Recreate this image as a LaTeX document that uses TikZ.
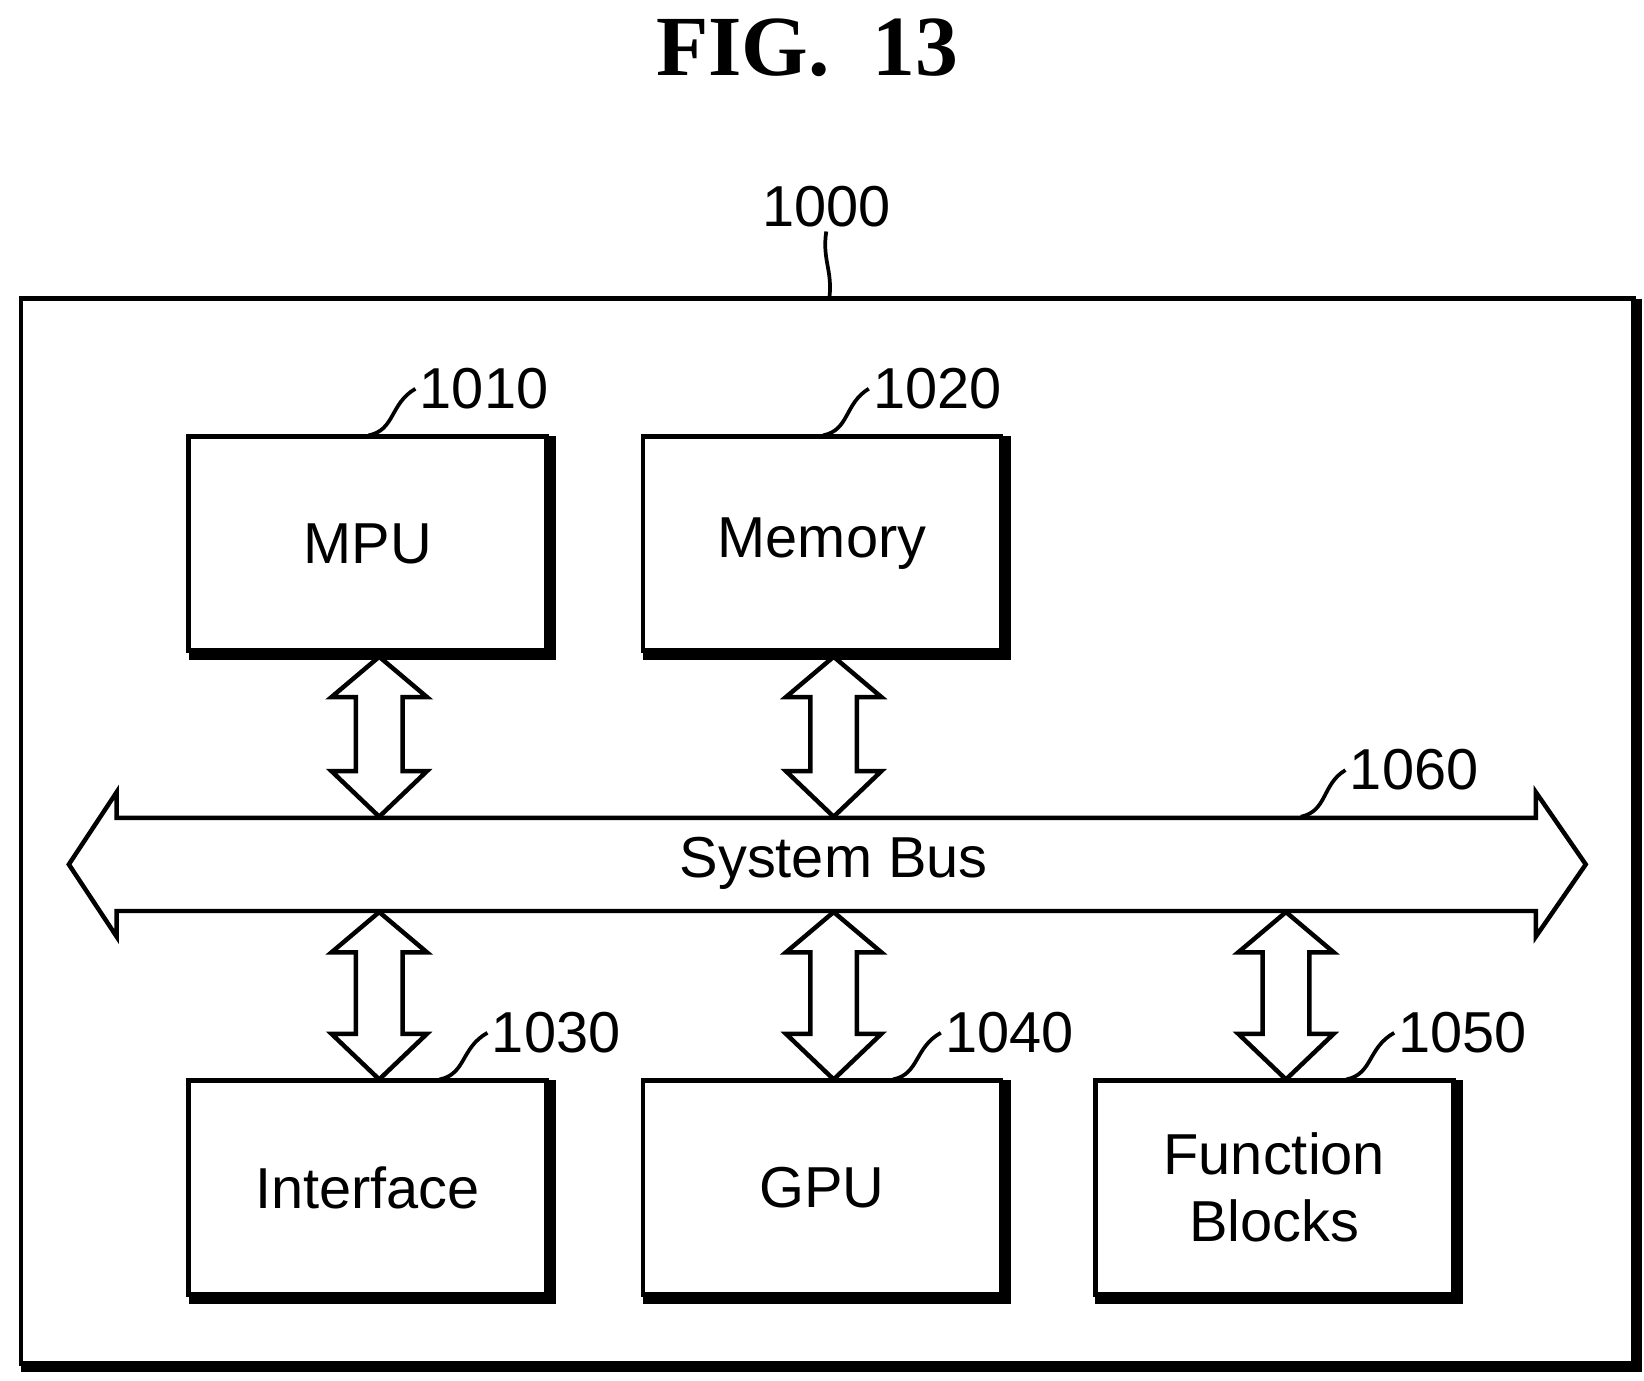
\documentclass[tikz,border=0pt]{standalone}
\usepackage{fontspec}
\setmainfont{Liberation Sans}
\newfontfamily\titlefont{Liberation Serif}
\begin{document}
\begin{tikzpicture}[x=0.01cm,y=-0.01cm,line join=miter,
  box/.style={draw,line width=1.2pt,inner sep=0pt,outer sep=0pt,minimum width=338*0.01cm,minimum height=202*0.01cm,anchor=north west,align=center,font=\fontsize{15.5}{18}\selectfont},
  num/.style={font=\fontsize{15.5}{18}\selectfont,inner sep=1pt},
  lead/.style={line width=1pt}]
\useasboundingbox (0,0) rectangle (1552,1303);
\node[font=\titlefont\bfseries\fontsize{23}{26}\selectfont] (title) at (762,45) {FIG.\ \ 13};
% outer
\node[draw,line width=1.2pt,inner sep=0pt,outer sep=0pt,minimum width=1522*0.01cm,minimum height=1005*0.01cm,anchor=north west] (outer) at (20,282) {};
\draw[line width=2.5pt] ([xshift=1pt]outer.north east)--([xshift=1pt,yshift=-1pt]outer.south east)--([yshift=-1pt]outer.south west);
\node[num] (n1000) at (780,195) {1000};
\draw[lead] (n1000.south) .. controls (776,245) and (786,255) .. (783,281);
% boxes
\foreach \n/\x/\y/\t in {mpu/178/412/MPU, mem/607/412/Memory, intf/178/1020/Interface, gpu/607/1020/GPU, fb/1034/1020/{Function\\Blocks}}{
  \node[box] (\n) at (\x,\y) {\t};
  \draw[line width=2.8pt] ([xshift=1.2pt]\n.north east)--([xshift=1.2pt,yshift=-1.2pt]\n.south east)--([yshift=-1.2pt]\n.south west);
}
% numbers with leaders
\foreach \n/\lab/\x/\y/\lx/\ly in {mpu/1010/457/367/348/411, mem/1020/885/367/777/411, intf/1030/525/975/415/1019, gpu/1040/953/975/843/1019, fb/1050/1381/975/1271/1019}{
  \node[num] (l\lab) at (\x,\y) {\lab};
  \coordinate (c\lab) at (\lx,\ly);
  \draw[lead] (c\lab) .. controls (\lx+25,\ly-5) and (\lx+20,\ly-30) .. (l\lab.west);
}
% bus
\draw[line width=1.2pt,fill=white] (110,772)--(1450,772)--(1450,748)--(1497,816)--(1450,884)--(1450,860)--(110,860)--(110,884)--(65,816)--(110,748)--cycle;
\node[font=\fontsize{15.5}{18}\selectfont] (bus) at (787,815) {System Bus};
\node[num] (l1060) at (1335,727) {1060};
\coordinate (c1060) at (1228,771);
\draw[lead] (c1060) .. controls (1253,766) and (1248,740) .. (l1060.west);
% vertical double arrows
\foreach \cx/\ta/\tb in {358/620/771, 787/620/771, 358/861/1019, 787/861/1019, 1214/861/1019}{
  \draw[line width=1.2pt,fill=white] (\cx,\ta)--(\cx+45,\ta+38)--(\cx+22,\ta+38)--(\cx+22,\tb-43)--(\cx+45,\tb-43)--(\cx,\tb)--(\cx-45,\tb-43)--(\cx-22,\tb-43)--(\cx-22,\ta+38)--(\cx-45,\ta+38)--cycle;
}
\end{tikzpicture}
\end{document}
